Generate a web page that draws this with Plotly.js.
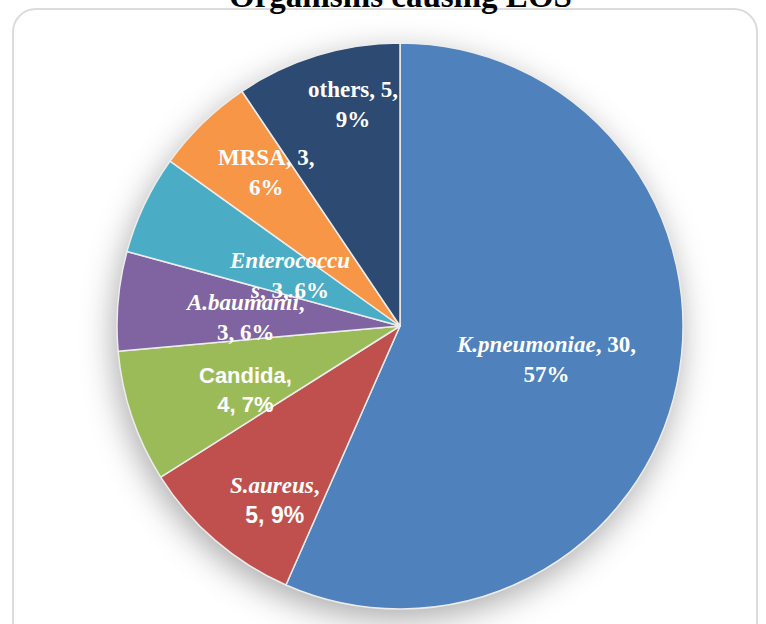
<!DOCTYPE html>
<html>
<head>
<meta charset="utf-8">
<script src="https://cdn.plot.ly/plotly-3.0.1.min.js"></script>
<style>
  html, body { margin: 0; padding: 0; background: #ffffff; }
  #wrap { position: relative; width: 766px; height: 624px; overflow: hidden; }
  #frame { position: absolute; left: 12px; top: 8px; width: 746px; height: 660px;
           border: 2px solid #dcdcdc; border-radius: 24px; box-sizing: border-box; }
  #chart { position: absolute; left: 0; top: 0; width: 766px; height: 624px; }
  #chart .pielayer { filter: drop-shadow(-3px 10px 16px rgba(0,0,0,0.32)); }
</style>
</head>
<body>
<div id="wrap">
  <div id="frame"></div>
  <div id="chart"></div>
</div>
<script>
// ---- data ----
const labels = ['K.pneumoniae', 'S.aureus', 'Candida', 'A.baumanii', 'Enterococcus', 'MRSA', 'others'];
const counts = [30, 5, 4, 3, 3, 3, 5];
const percentText = ['57%', '9%', '7%', '6%', '6%', '6%', '9%'];
const colors = ['#4f81bd', '#c0504d', '#9bbb59', '#8064a2', '#4bacc6', '#f79646', '#2c4a72'];
const titleText = 'Organisms causing EOS';

// ---- label layout (style only) ----
const labelRadius = [0.53, 0.76, 0.59, 0.55, 0.43, 0.72, 0.80];
const labelAngleAdj = [1, -5, -4, -2, -1, 3, 5];
const SERIF = 'Liberation Serif, Times New Roman, serif';
const SANS = 'Liberation Sans, Arial, sans-serif';

function labelHtml(i) {
  const n = labels[i], c = counts[i], p = percentText[i];
  switch (n) {
    case 'K.pneumoniae': return `<b><i>${n}</i>, ${c},<br>${p}</b>`;
    case 'S.aureus': return `<b><i>${n}</i>,<br><span style="font-family:Liberation Sans">${c}, ${p}</span></b>`;
    case 'Candida': return `<b>${n},<br>${c}, ${p}</b>`;
    case 'A.baumanii': return `<b><i>${n}</i>,<br>${c}, ${p}</b>`;
    case 'Enterococcus': return `<b><i>${n.slice(0, -1)}</i><br><i>${n.slice(-1)}</i>, ${c}, ${p}</b>`;
    default: return `<b>${n}, ${c},<br>${p}</b>`;
  }
}

const total = counts.reduce((a, b) => a + b, 0);
let cum = 0;
const annotations = counts.map((v, i) => {
  const mid = (cum + v / 2) / total * 360 + labelAngleAdj[i];
  cum += v;
  const th = mid * Math.PI / 180;
  return {
    xref: 'paper', yref: 'paper',
    x: 0.5 + labelRadius[i] * 0.5 * Math.sin(th),
    y: 0.5 + labelRadius[i] * 0.5 * Math.cos(th),
    xanchor: 'center', yanchor: 'middle',
    text: labelHtml(i), showarrow: false,
    font: { family: labels[i] === 'Candida' ? SANS : SERIF, size: labels[i] === 'Candida' ? 22 : 23, color: '#ffffff' }
  };
});

annotations.push({
  xref: 'paper', yref: 'paper', x: 0.5, y: 1.083, xanchor: 'center', yanchor: 'middle',
  text: '<b>' + titleText + '</b>', showarrow: false,
  font: { family: SERIF, size: 33, color: '#000000' }
});

const trace = {
  type: 'pie',
  labels: labels,
  values: counts,
  sort: false,
  direction: 'clockwise',
  rotation: 0,
  marker: { colors: colors, line: { color: '#ececec', width: 1.5 } },
  textinfo: 'none',
  hoverinfo: 'label+value+percent',
  showlegend: false,
  domain: { x: [0, 1], y: [0, 1] }
};

const layout = {
  width: 766, height: 624,
  margin: { l: 117, r: 83, t: 43, b: 15 },
  paper_bgcolor: 'rgba(0,0,0,0)',
  plot_bgcolor: 'rgba(0,0,0,0)',
  showlegend: false,
  annotations: annotations
};

Plotly.newPlot('chart', [trace], layout, { displayModeBar: false, staticPlot: true });
</script>
</body>
</html>
